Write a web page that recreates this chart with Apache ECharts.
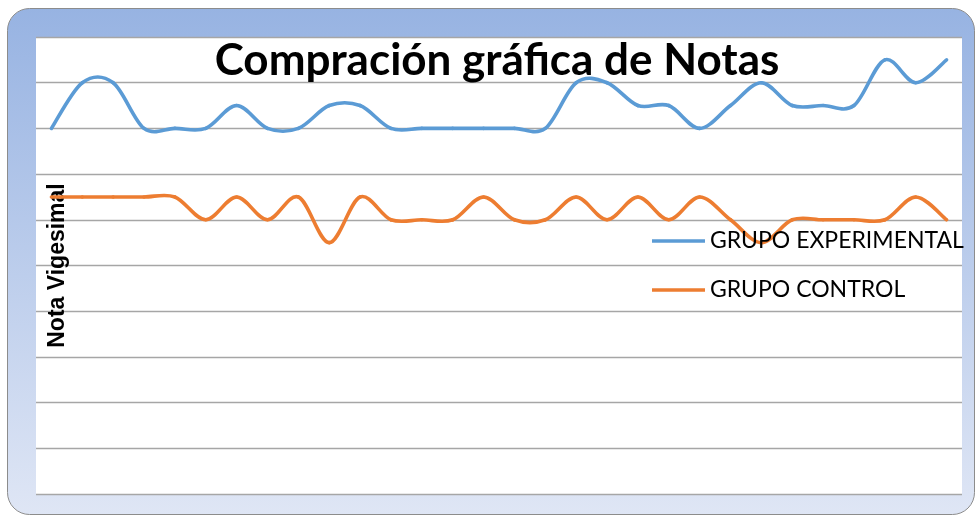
<!DOCTYPE html>
<html>
<head>
<meta charset="utf-8">
<script src="https://cdn.jsdelivr.net/npm/echarts@6/dist/echarts.min.js"></script>
<style>
html,body{margin:0;padding:0;background:#fff;}
#chart{width:977px;height:517px;}
</style>
</head>
<body>
<div id="chart"></div>
<script>
const categories = ['1','2','3','4','5','6','7','8','9','10','11','12','13','14','15','16','17','18','19','20','21','22','23','24','25','26','27','28','29','30'];
const grupoExperimental = [16,18,18,16,16,16,17,16,16,17,17,16,16,16,16,16,16,18,18,17,17,16,17,18,17,17,17,19,18,19];
const grupoControl = [13,13,13,13,13,12,13,12,13,11,13,12,12,12,13,12,12,13,12,13,12,13,12,11,12,12,12,12,13,12];
const seriesNames = ['GRUPO EXPERIMENTAL','GRUPO CONTROL'];
const seriesColors = ['#5b9bd5','#ed7d31'];
const titleText = 'Compración gráfica de Notas';
const yAxisTitle = 'Nota Vigesimal';

// Smooth curve (Catmull-Rom style, like the spreadsheet's smoothed line),
// every point placed through the chart's own axes with api.coord.
function smoothRenderer(arr, color) {
  return function (params, api) {
    const i = params.dataIndex;
    if (i >= arr.length - 1) return null;
    const p = k => { const c = Math.max(0, Math.min(arr.length - 1, k)); return api.coord([c, arr[c]]); };
    const P0 = p(i - 1), P1 = p(i), P2 = p(i + 1), P3 = p(i + 2);
    return {
      type: 'bezierCurve',
      shape: {
        x1: P1[0], y1: P1[1], x2: P2[0], y2: P2[1],
        cpx1: P1[0] + (P2[0] - P0[0]) / 6, cpy1: P1[1] + (P2[1] - P0[1]) / 6,
        cpx2: P2[0] - (P3[0] - P1[0]) / 6, cpy2: P2[1] - (P3[1] - P1[1]) / 6
      },
      style: { stroke: color, lineWidth: 3.6, fill: null, lineCap: 'round' },
      silent: true
    };
  };
}

const chart = echarts.init(document.getElementById('chart'), null, {renderer:'canvas'});
chart.setOption({
  animation:false,
  graphic:[{
    type:'rect', z:-10, silent:true,
    shape:{x:7.5,y:8.5,width:967,height:506,r:22},
    style:{
      fill:new echarts.graphic.LinearGradient(0,0,0,1,[{offset:0,color:'#97b3e2'},{offset:1,color:'#dfe6f5'}]),
      stroke:'#8c8c8c', lineWidth:1
    }
  }],
  title:{
    text:titleText, left:497, top:39, textAlign:'center', padding:0,
    textStyle:{fontFamily:'Lato',fontWeight:'bold',fontSize:44,color:'#000'}
  },
  legend:{
    orient:'vertical', left:652, top:229, padding:0,
    itemWidth:53, itemHeight:3.5, itemGap:25,
    textStyle:{fontFamily:'Lato',fontSize:23,color:'#000',lineHeight:24},
    data:[{name:seriesNames[0],icon:'rect'},{name:seriesNames[1],icon:'rect'}]
  },
  grid:{left:36,top:37,right:15,bottom:23,show:true,backgroundColor:'#fff',borderWidth:0},
  xAxis:{
    type:'category', data:categories, boundaryGap:true,
    axisLine:{show:false}, axisTick:{show:false}, axisLabel:{show:false}, splitLine:{show:false}
  },
  yAxis:{
    type:'value', min:0, max:20, interval:2,
    name:yAxisTitle, nameLocation:'middle', nameGap:-33, nameRotate:90,
    nameTextStyle:{fontFamily:'Liberation Sans',fontWeight:'bold',fontSize:23,color:'#000'},
    axisLine:{show:false}, axisTick:{show:false}, axisLabel:{show:false},
    splitLine:{show:true,lineStyle:{color:'#a6a6a6',width:1.3}}
  },
  series:[
    {name:seriesNames[0],type:'custom',data:grupoExperimental.map((v,i)=>[i,v]),encode:{x:0,y:1},
     renderItem:smoothRenderer(grupoExperimental,seriesColors[0]),itemStyle:{color:seriesColors[0]}},
    {name:seriesNames[1],type:'custom',data:grupoControl.map((v,i)=>[i,v]),encode:{x:0,y:1},
     renderItem:smoothRenderer(grupoControl,seriesColors[1]),itemStyle:{color:seriesColors[1]}}
  ]
});
</script>
</body>
</html>
